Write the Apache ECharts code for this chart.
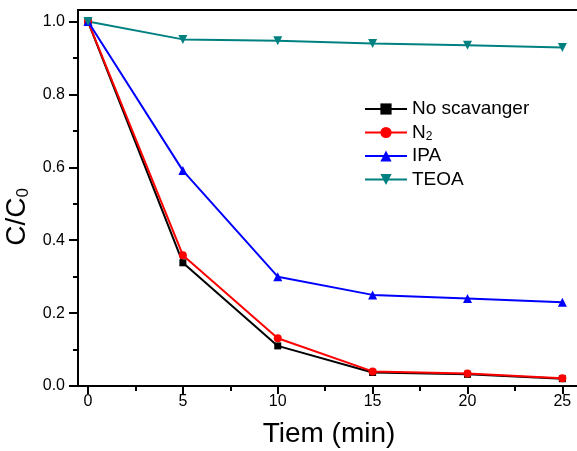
<!DOCTYPE html>
<html>
<head>
<meta charset="utf-8">
<script src="https://cdn.jsdelivr.net/npm/echarts@6/dist/echarts.min.js"></script>
<style>
  html, body { margin: 0; padding: 0; background: #fff; }
  #chart { width: 577px; height: 451px; }
</style>
</head>
<body>
<div id="chart"></div>
<script>
// Photocatalytic degradation with different scavengers
const times = [0, 5, 10, 15, 20, 25];
const noScavenger = [1.0, 0.338, 0.11, 0.037, 0.032, 0.02];
const n2 = [1.0, 0.359, 0.131, 0.040, 0.034, 0.021];
const ipa = [1.0, 0.591, 0.30, 0.25, 0.24, 0.23];
const teoa = [1.0, 0.951, 0.947, 0.940, 0.935, 0.929];

const xMajor = [0, 5, 10, 15, 20, 25];
const xMinor = [2.5, 7.5, 12.5, 17.5, 22.5];
const yMajor = [0, 0.2, 0.4, 0.6, 0.8, 1.0];
const yMinor = [0.1, 0.3, 0.5, 0.7, 0.9];

const FONT = 'Liberation Sans, Arial, sans-serif';
const X_MIN = -0.527, X_MAX = 25.93;
const Y_MIN = 0, Y_MAX = 1.0316;

const pairs = (ys) => times.map((t, i) => [t, ys[i]]);

const chart = echarts.init(document.getElementById('chart'), null, { renderer: 'canvas' });

function lineSeries(name, ys, color, symbol, size, rotate) {
  return {
    name: name,
    type: 'line',
    data: pairs(ys),
    symbol: symbol,
    symbolSize: size,
    symbolRotate: rotate || 0,
    lineStyle: { color: color, width: 2 },
    itemStyle: { color: color },
    animation: false
  };
}

chart.setOption({
  animation: false,
  grid: {
    left: 78, top: 10, right: -3, bottom: 65,
    outerBoundsMode: 'none', containLabel: false,
    show: true, borderColor: '#000', borderWidth: 2, backgroundColor: 'transparent'
  },
  legend: {
    left: 359, top: 94, orient: 'vertical',
    itemWidth: 42, itemHeight: 14, itemGap: 3.5,
    textStyle: {
      fontFamily: FONT, fontSize: 19, color: '#000', lineHeight: 20,
      rich: {
        n: { fontFamily: FONT, fontSize: 19, color: '#000', lineHeight: 20 },
        s: { fontFamily: FONT, fontSize: 12, color: '#000', lineHeight: 20, verticalAlign: 'bottom', padding: [8, 0, 0, 0] }
      }
    },
    formatter: function (name) {
      return name === 'N2' ? '{n|N}{s|2}' : name;
    },
    data: ['No scavanger', 'N2', 'IPA', 'TEOA']
  },
  xAxis: [
    {
      type: 'value', min: X_MIN, max: X_MAX,
      name: 'Tiem (min)', nameLocation: 'middle', nameGap: 34,
      nameTextStyle: { fontFamily: FONT, fontSize: 28, color: '#000' },
      axisLine: { onZero: false, lineStyle: { color: '#000', width: 2 } },
      axisTick: { show: true, inside: false, length: 8, lineStyle: { color: '#000', width: 2 }, customValues: xMajor },
      axisLabel: { show: true, margin: 8, fontFamily: FONT, fontSize: 16, color: '#000', customValues: xMajor },
      splitLine: { show: false }
    },
    {
      // minor ticks on the time axis
      type: 'value', min: X_MIN, max: X_MAX, position: 'bottom', offset: 0,
      axisLine: { show: false, onZero: false },
      axisTick: { show: true, inside: false, length: 5, lineStyle: { color: '#000', width: 2 }, customValues: xMinor },
      axisLabel: { show: false },
      splitLine: { show: false }
    }
  ],
  yAxis: [
    {
      type: 'value', min: Y_MIN, max: Y_MAX,
      name: '{c|C/C}{s|0}', nameLocation: 'middle', nameGap: 37,
      nameTextStyle: {
        fontFamily: FONT, fontSize: 28, color: '#000', padding: [0, 38, 0, 0],
        rich: {
          c: { fontFamily: FONT, fontSize: 28, color: '#000', lineHeight: 30 },
          s: { fontFamily: FONT, fontSize: 17, color: '#000', lineHeight: 30, verticalAlign: 'bottom', padding: [12, 0, 0, 0] }
        }
      },
      axisLine: { onZero: false, lineStyle: { color: '#000', width: 2 } },
      axisTick: { show: true, inside: false, length: 9, lineStyle: { color: '#000', width: 2 }, customValues: yMajor },
      axisLabel: { show: true, margin: 13, fontFamily: FONT, fontSize: 16, color: '#000', customValues: yMajor,
        formatter: (v) => v.toFixed(1) },
      splitLine: { show: false }
    },
    {
      // minor ticks on the concentration axis
      type: 'value', min: Y_MIN, max: Y_MAX, position: 'left', offset: 0,
      axisLine: { show: false, onZero: false },
      axisTick: { show: true, inside: false, length: 5, lineStyle: { color: '#000', width: 2 }, customValues: yMinor },
      axisLabel: { show: false },
      splitLine: { show: false }
    }
  ],
  series: [
    lineSeries('No scavanger', noScavenger, '#000000', 'rect', 7),
    lineSeries('N2', n2, '#ff0000', 'circle', 8),
    lineSeries('IPA', ipa, '#0000ff', 'triangle', 9),
    lineSeries('TEOA', teoa, '#008080', 'triangle', 9, 180)
  ]
});
</script>
</body>
</html>
